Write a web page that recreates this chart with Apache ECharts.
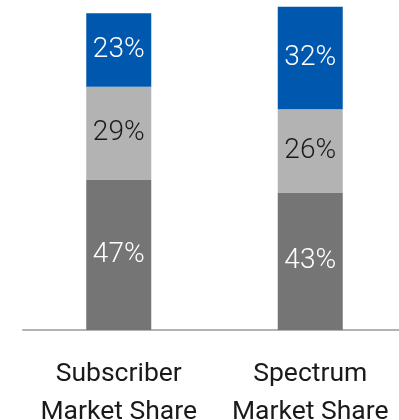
<!DOCTYPE html>
<html>
<head>
<meta charset="utf-8">
<script src="https://cdn.jsdelivr.net/npm/echarts@6/dist/echarts.min.js"></script>
<style>
  html, body { margin: 0; padding: 0; background: #fff; }
  #chart { width: 399px; height: 420px; }
</style>
</head>
<body>
<div id="chart"></div>
<script>
// Market share breakdown, stacked bottom to top
const categories = ['Subscriber\nMarket Share', 'Spectrum\nMarket Share'];
const bottomShare = [47, 43];
const middleShare = [29, 26];
const topShare = [23, 32];

const chart = echarts.init(document.getElementById('chart'));

function segment(name, data, color, labelColor) {
  return {
    name: name,
    type: 'bar',
    stack: 'share',
    data: data,
    barWidth: 65,
    clip: false,
    itemStyle: { color: color },
    label: {
      show: true,
      position: 'inside',
      formatter: '{c}%',
      color: labelColor,
      fontFamily: 'Roboto',
      fontWeight: 300,
      fontSize: 28
    }
  };
}

chart.setOption({
  animation: false,
  grid: {
    left: 23, top: 10, width: 383, height: 320,
    containLabel: false,
    outerBoundsMode: 'none'
  },
  xAxis: {
    type: 'category',
    data: categories,
    axisLine: { show: true, lineStyle: { color: '#b3b3b3', width: 2 } },
    axisTick: { show: false },
    axisLabel: {
      interval: 0,
      hideOverlap: false,
      color: '#1a1a1a',
      fontFamily: 'Roboto',
      fontSize: 26.5,
      lineHeight: 38,
      margin: 25
    }
  },
  yAxis: {
    type: 'value',
    min: 0,
    max: 100,
    show: false,
    splitLine: { show: false }
  },
  series: [
    segment('Bottom', bottomShare, '#757575', '#ffffff'),
    segment('Middle', middleShare, '#b3b3b3', '#1a1a1a'),
    segment('Top', topShare, '#0057ae', '#ffffff')
  ]
});
</script>
</body>
</html>
